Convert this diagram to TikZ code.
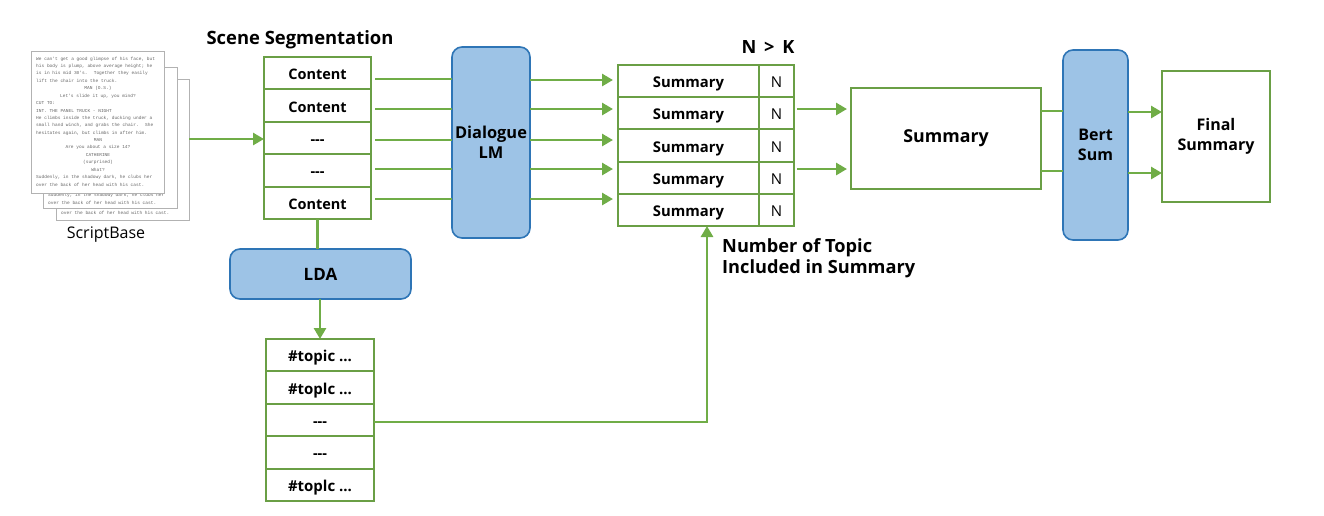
\documentclass[tikz,border=0pt]{standalone}
\usepackage{fontspec}
\setmainfont{Open Sans}
\newfontfamily\monof{Liberation Mono}
\usetikzlibrary{arrows.meta,calc}
\definecolor{gr}{HTML}{70AD47}
\definecolor{grb}{HTML}{6A9F45}
\definecolor{bfill}{HTML}{9DC3E6}
\definecolor{bdraw}{HTML}{2E75B6}
\begin{document}
\begin{tikzpicture}[x=1pt,y=-1pt,
 gline/.style={draw=gr,line width=2.8pt},
 garrow/.style={gline,-{Triangle[length=11pt,width=12pt]}},
 cell/.style={draw=grb,line width=2pt,fill=white,inner sep=0,outer sep=0,text height=13pt,text depth=0pt,font=\bfseries\fontsize{14.5}{16}\selectfont},
 sumcell/.style={cell,minimum height=32.2pt,font=\bfseries\fontsize{14.8}{16}\selectfont},
 ncell/.style={cell,minimum height=32.2pt,minimum width=35pt,font=\fontsize{15}{16}\selectfont},
 bbox/.style={draw=bdraw,fill=bfill,line width=1.6pt,rounded corners=10pt,inner sep=0,outer sep=0,align=center,font=\bfseries\fontsize{16.4}{20}\selectfont},
 wbox/.style={draw=grb,line width=2pt,fill=white,inner sep=0,outer sep=0,align=center,font=\bfseries\fontsize{16}{20}\selectfont},
 page/.style={draw=black!30,fill=white,line width=0.9pt,inner sep=0,outer sep=0},
 pl/.style={font=\monof\fontsize{4.5}{5}\selectfont,text=black!60,inner sep=0},
 lbl/.style={inner sep=0,font=\bfseries\fontsize{18.2}{21}\selectfont}]
\useasboundingbox (0,0) rectangle (1324,515);

% ---- script pages ----
\node[page,minimum width=133pt,minimum height=141pt] (p3) at (122.5,149.5) {};
\node[pl,anchor=west] (p3a) at (61,213) {over the back of her head with his cast.};
\node[page,minimum width=134pt,minimum height=141pt] (p2) at (110,137.5) {};
\node[pl,anchor=west] (p2a) at (48,195) {Suddenly, in the shadowy dark, he clubs her};
\node[pl,anchor=west] (p2b) at (48,202.5) {over the back of her head with his cast.};
\node[page,minimum width=133pt,minimum height=142pt] (p1) at (97.5,122) {};
\node[pl,anchor=west] (l1) at (36,59) {We can't get a good glimpse of his face, but};
\node[pl,anchor=west] (l2) at (36,66.4) {his body is plump, above average height; he};
\node[pl,anchor=west] (l3) at (36,73.8) {is in his mid 30's.~ Together they easily};
\node[pl,anchor=west] (l4) at (36,81.2) {lift the chair into the truck.};
\node[pl] (l5) at (98,88.6) {MAN (O.S.)};
\node[pl] (l6) at (98,96) {Let's slide it up, you mind?};
\node[pl,anchor=west] (l7) at (36,103.4) {CUT TO:};
\node[pl,anchor=west] (l8) at (36,110.8) {INT. THE PANEL TRUCK - NIGHT};
\node[pl,anchor=west] (l9) at (36,118.2) {He climbs inside the truck, ducking under a};
\node[pl,anchor=west] (l10) at (36,125.6) {small hand winch, and grabs the chair.~ She};
\node[pl,anchor=west] (l11) at (36,133) {hesitates again, but climbs in after him.};
\node[pl] (l12) at (98,140.4) {MAN};
\node[pl] (l13) at (98,147.8) {Are you about a size 14?};
\node[pl] (l14) at (98,155.2) {CATHERINE};
\node[pl] (l15) at (98,162.6) {(surprised)};
\node[pl] (l16) at (98,170) {What?};
\node[pl,anchor=west] (l17) at (36,177.4) {Suddenly, in the shadowy dark, he clubs her};
\node[pl,anchor=west] (l18) at (36,184.8) {over the back of her head with his cast.};
\node[inner sep=0,font=\fontsize{16}{18}\selectfont] (sb) at (106,235) {ScriptBase};

% ---- scene segmentation ----
\node[lbl,font=\bfseries\fontsize{18.4}{20}\selectfont] (sst) at (300,40) {Scene Segmentation};
\node[cell,minimum width=107pt,minimum height=32.4pt] (c1) at (317.5,73.2) {Content};
\node[cell,minimum width=107pt,minimum height=32.4pt] (c2) at (317.5,105.6) {Content};
\node[cell,minimum width=107pt,minimum height=32.4pt] (c3) at (317.5,138) {-{}-{}-};
\node[cell,minimum width=107pt,minimum height=32.4pt] (c4) at (317.5,170.4) {-{}-{}-};
\node[cell,minimum width=107pt,minimum height=32.4pt] (c5) at (317.5,202.8) {Content};

% ---- Dialogue LM ----
\node[bbox,minimum width=78pt,minimum height=191pt] (dlm) at (491,142.5) {Dialogue\\LM};

% ---- summary stack ----
\node[lbl] (nk) at (768,47) {N~\,>~\,K};
\node[sumcell,minimum width=141pt] (s1) at (688.5,81.1) {Summary};
\node[sumcell,minimum width=141pt] (s2) at (688.5,113.3) {Summary};
\node[sumcell,minimum width=141pt] (s3) at (688.5,145.5) {Summary};
\node[sumcell,minimum width=141pt] (s4) at (688.5,177.7) {Summary};
\node[sumcell,minimum width=141pt] (s5) at (688.5,209.9) {Summary};
\node[ncell] (n1) at (776.5,81.1) {N};
\node[ncell] (n2) at (776.5,113.3) {N};
\node[ncell] (n3) at (776.5,145.5) {N};
\node[ncell] (n4) at (776.5,177.7) {N};
\node[ncell] (n5) at (776.5,209.9) {N};
\node[lbl,anchor=base west,align=left] (nt) at (722,273) {Number of Topic\\Included in Summary};

% ---- right part ----
\node[wbox,minimum width=190pt,minimum height=101pt,font=\bfseries\fontsize{17.8}{20}\selectfont] (bs) at (946,138.5) {Summary};
\node[bbox,minimum width=65pt,minimum height=190pt,font=\bfseries\fontsize{16}{20}\selectfont] (bert) at (1095.5,145) {Bert\\Sum};
\node[wbox,minimum width=108pt,minimum height=131pt] (fin) at (1216,136.5) {Final\\Summary};

% ---- LDA and topics ----
\node[bbox,minimum width=181pt,minimum height=50pt,font=\bfseries\fontsize{17}{20}\selectfont] (lda) at (320.5,274) {LDA};
\node[cell,minimum width=108pt,minimum height=32.4pt,font=\bfseries\fontsize{15}{16}\selectfont] (t1) at (320,355.2) {\#topic ...};
\node[cell,minimum width=108pt,minimum height=32.4pt,font=\bfseries\fontsize{15}{16}\selectfont] (t2) at (320,387.6) {\#toplc ...};
\node[cell,minimum width=108pt,minimum height=32.4pt] (t3) at (320,420) {-{}-{}-};
\node[cell,minimum width=108pt,minimum height=32.4pt] (t4) at (320,452.4) {-{}-{}-};
\node[cell,minimum width=108pt,minimum height=32.4pt,font=\bfseries\fontsize{15}{16}\selectfont] (t5) at (320,484.8) {\#toplc ...};

% ---- connectors ----
\draw[garrow] (p3.east |- 0,139) -- (c3.west |- 0,139);
\foreach \i/\y in {1/79,2/109,3/140,4/169,5/199}{
  \draw[gline] ([xshift=4pt]c\i.east |- 0,\y) -- (dlm.west |- 0,\y);
}
\foreach \i/\y in {1/80,2/109,3/140,4/169,5/199}{
  \draw[garrow,shorten >=5pt] (dlm.east |- 0,\y) -- (s\i.west |- 0,\y);
}
\draw[garrow,shorten >=4pt] ([xshift=3pt]n2.east |- 0,109) -- (bs.west |- 0,109);
\draw[garrow,shorten >=4pt] ([xshift=3pt]n4.east |- 0,169) -- (bs.west |- 0,169);
\draw[gline] (bs.east |- 0,111) -- (bert.west |- 0,111);
\draw[gline] (bs.east |- 0,171) -- (bert.west |- 0,171);
\draw[garrow] (bert.east |- 0,112) -- (fin.west |- 0,112);
\draw[garrow] (bert.east |- 0,173) -- (fin.west |- 0,173);
\draw[gline] (c5.south) -- (c5.south |- lda.north);
\draw[garrow] (lda.south -| t1.north) -- (t1.north);
\coordinate (bend) at (707,422);
\draw[garrow] (t3.east |- bend) -- (bend) -- (bend |- s5.south);
\end{tikzpicture}
\end{document}
